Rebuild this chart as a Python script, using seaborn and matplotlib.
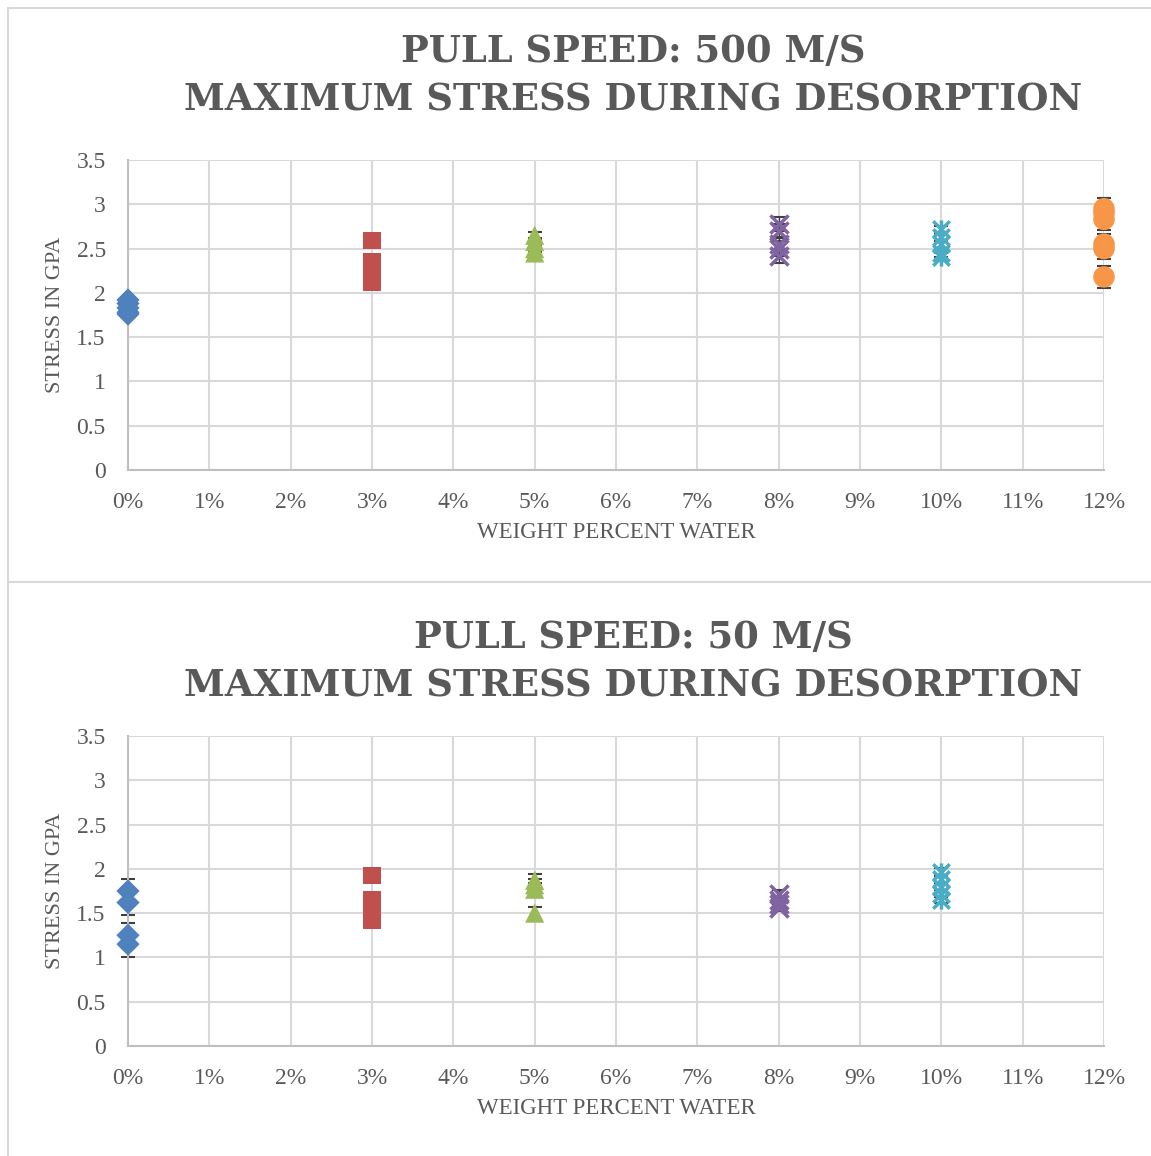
import numpy as np
import pandas as pd
import matplotlib
matplotlib.use("Agg")
import matplotlib.pyplot as plt
from matplotlib.path import Path
from matplotlib.lines import Line2D
from matplotlib.ticker import FuncFormatter, MultipleLocator
import seaborn as sns

# series: weight percent water
agua = [0.00, 0.03, 0.05, 0.08, 0.10, 0.12]
colores = ["#4F81BD", "#C0504D", "#9BBB59", "#8064A2", "#4BACC6", "#F79646"]

# pull speed 500 m/s
rapido_vals = [
    [1.92, 1.88, 1.83, 1.78, 1.76],
    [2.59, 2.35, 2.30, 2.25, 2.18, 2.12],
    [2.65, 2.58, 2.50, 2.45],
    [2.78, 2.70, 2.55, 2.50, 2.42],
    [2.72, 2.63, 2.55, 2.45, 2.41],
    [2.95, 2.90, 2.83, 2.55, 2.50, 2.18],
]
rapido_err = [0.02, 0.02, 0.04, 0.08, 0.04, 0.12]

# pull speed 50 m/s
lento_vals = [
    [1.75, 1.62, 1.25, 1.15],
    [1.93, 1.65, 1.60, 1.55, 1.48, 1.42],
    [1.87, 1.82, 1.77, 1.50],
    [1.72, 1.65, 1.60, 1.56],
    [1.97, 1.88, 1.80, 1.72, 1.65],
]
lento_err = [0.14, 0.02, 0.07, 0.04, 0.04]

titulos = ["PULL SPEED: 500 M/S\nMAXIMUM STRESS DURING DESORPTION",
           "PULL SPEED: 50 M/S\nMAXIMUM STRESS DURING DESORPTION"]

# excel "star" marker: x plus vertical bar
estrella = Path([(-1, -1), (1, 1), (-1, 1), (1, -1), (0, -1.1), (0, 1.1)],
                [Path.MOVETO, Path.LINETO, Path.MOVETO, Path.LINETO, Path.MOVETO, Path.LINETO])
marcadores = ["D", "s", "^", "x", estrella, "o"]
tamanos = [140, 150, 190, 170, 170, 240]

gris = "#595959"
W, H = 1151, 1156

sns.set_theme(style="white")
plt.rcParams["font.family"] = ["DejaVu Serif"]

fig = plt.figure(figsize=(W / 100, H / 100), dpi=100)

# panel borders
borde = "#D9D9D9"
fig.add_artist(Line2D([8 / W, 1], [1 - 8 / H, 1 - 8 / H], color=borde, lw=1.5))
fig.add_artist(Line2D([8 / W, 8 / W], [0, 1 - 8 / H], color=borde, lw=1.5))
fig.add_artist(Line2D([8 / W, 1], [1 - 582 / H, 1 - 582 / H], color=borde, lw=1.5))


def graficar(ax, valores, errores, titulo, top_px):
    for i, vals in enumerate(valores):
        df = pd.DataFrame({"agua": [agua[i]] * len(vals), "stress": vals})
        ax.errorbar(df["agua"], df["stress"], yerr=errores[i], fmt="none",
                    ecolor="#404040", elinewidth=1, capsize=5, capthick=1.5,
                    zorder=2, clip_on=False)
        m = marcadores[i]
        if m == "x":
            sns.scatterplot(data=df, x="agua", y="stress", marker=m, s=tamanos[i],
                            color=colores[i], linewidth=2.5, ax=ax, zorder=3,
                            clip_on=False)
        elif m is estrella:
            sns.scatterplot(data=df, x="agua", y="stress", marker=m, s=tamanos[i],
                            color=colores[i], edgecolor=colores[i], linewidth=2.5,
                            ax=ax, zorder=3, clip_on=False)
        else:
            sns.scatterplot(data=df, x="agua", y="stress", marker=m, s=tamanos[i],
                            color=colores[i], edgecolor="none", ax=ax, zorder=3,
                            clip_on=False)
    ax.set_xlim(0, 0.12)
    ax.set_ylim(0, 3.5)
    ax.xaxis.set_major_locator(MultipleLocator(0.01))
    ax.yaxis.set_major_locator(MultipleLocator(0.5))
    ax.xaxis.set_major_formatter(FuncFormatter(lambda v, p: f"{v * 100:.0f}%"))
    ax.yaxis.set_major_formatter(FuncFormatter(lambda v, p: f"{v:g}"))
    ax.grid(True, color="#D9D9D9", lw=1.5)
    ax.set_axisbelow(True)
    for s in ["top", "right"]:
        ax.spines[s].set_visible(False)
    for s in ["left", "bottom"]:
        ax.spines[s].set_color("#BFBFBF")
        ax.spines[s].set_linewidth(1.5)
    ax.tick_params(axis="both", length=0, labelsize=17, labelcolor=gris,
                   labelfontfamily="Liberation Serif")
    ax.tick_params(axis="x", pad=16)
    ax.tick_params(axis="y", pad=16)
    ax.set_xlabel("WEIGHT PERCENT WATER", fontsize=16.5, color=gris,
                  family="Liberation Serif", labelpad=6)
    ax.set_ylabel("STRESS IN GPA", fontsize=16, color=gris,
                  family="Liberation Serif", labelpad=8)
    fig.text(633 / W, 1 - top_px / H, titulo, ha="center", va="top",
             fontsize=26.6, fontweight="bold", color=gris, linespacing=1.45,
             family="DejaVu Serif")


ax1 = fig.add_axes([128 / W, 1 - 470 / H, 976 / W, 310 / H])
graficar(ax1, rapido_vals, rapido_err, titulos[0], 34)
ax2 = fig.add_axes([128 / W, 1 - 1046 / H, 976 / W, 310 / H])
graficar(ax2, lento_vals, lento_err, titulos[1], 620)

fig.savefig("out.png", dpi=100)
